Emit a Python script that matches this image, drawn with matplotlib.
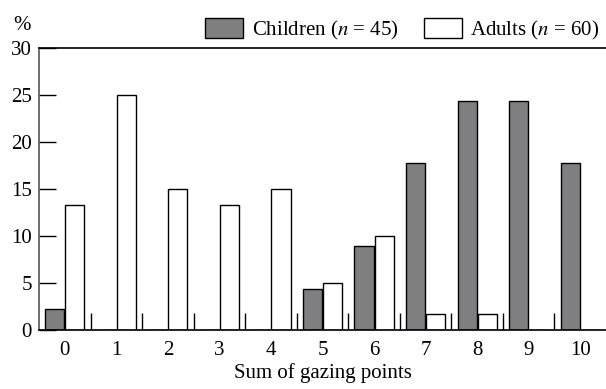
import matplotlib
matplotlib.use("Agg")
import matplotlib.pyplot as plt
import numpy as np

plt.rcParams['font.family'] = ['Liberation Serif', 'DejaVu Serif']
plt.rcParams['mathtext.fontset'] = 'stix'

#Data (percent of each group)
scores = [0, 1, 2, 3, 4, 5, 6, 7, 8, 9, 10]
children = [2.2, 0, 0, 0, 0, 4.4, 8.9, 17.8, 24.4, 24.4, 17.8]
adults = [13.3, 25, 15, 13.3, 15, 5, 10, 1.7, 1.7, 0, 0]
yticks = [0, 5, 10, 15, 20, 25, 30]

fig = plt.figure(figsize=(6.06, 3.89), dpi=100)
ax = fig.add_axes([0.0644, 0.1517, 0.9356, 0.7249])

x = np.array(scores)
w = 0.37
ax.bar(x - 0.195, children, w, color="#7f7f82", edgecolor="black", linewidth=1,
       label="Children ($n$ = 45)")
ax.bar(x + 0.195, adults, w, color="white", edgecolor="black", linewidth=1,
       label="Adults ($n$ = 60)")

ax.set_xlim(-0.5, 10.5)
ax.set_ylim(0, 30)
ax.set_yticks(yticks)
ax.set_xticks(scores)
ax.tick_params(axis="x", length=0, labelsize=15, pad=8)
ax.tick_params(axis="y", direction="in", length=12, width=1, labelsize=15, pad=5)

#boundary ticks between score groups
ax.set_xticks(x[:-1] + 0.5, minor=True)
ax.tick_params(axis="x", which="minor", direction="in", length=12, width=1)

ax.spines["right"].set_visible(False)
for s in ["left", "top", "bottom"]:
    ax.spines[s].set_linewidth(1.2)
ax.spines["left"].set_color("#555555")

ax.set_xlabel("Sum of gazing points", fontsize=15, labelpad=2)
fig.text(0.037, 0.935, "%", fontsize=15, ha="center", va="center")

ax.legend(loc="lower right", bbox_to_anchor=(1.0, 1.0), ncol=2, frameon=False,
          fontsize=15, handlelength=1.85, handleheight=1.1, columnspacing=1.2,
          handletextpad=0.4, borderpad=0.2, borderaxespad=0.1)

fig.savefig("out.png", dpi=100)
